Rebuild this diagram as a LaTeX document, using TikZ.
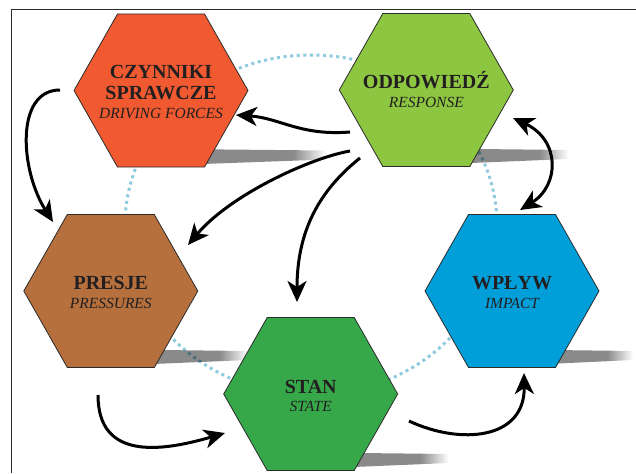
\documentclass[tikz,border=0pt]{standalone}
\usepackage{fontspec}
\setmainfont{Liberation Serif}
\usetikzlibrary{arrows.meta}
\definecolor{cOrange}{HTML}{F15A30}
\definecolor{cLime}{HTML}{8DC641}
\definecolor{cBrown}{HTML}{B5703E}
\definecolor{cGreen}{HTML}{36A84A}
\definecolor{cBlue}{HTML}{009FDA}
\definecolor{cDot}{HTML}{8CCBDE}
\definecolor{cShadow}{HTML}{8A8A8A}
\definecolor{cText}{HTML}{231F20}
\definecolor{cEdge}{HTML}{2B2B2B}
\pgfdeclarehorizontalshading{shadowfade}{100bp}{color(0bp)=(cShadow); color(67bp)=(cShadow); color(75bp)=(white); color(100bp)=(white)}
\tikzset{
  hexline/.style={draw=cEdge, line width=0.8pt},
  pics/hexa/.style={code={\path[hexline, fill=#1] (-87,0) -- (-43.5,-76.5) -- (43.5,-76.5) -- (87,0) -- (43.5,76.5) -- (-43.5,76.5) -- cycle;}},
  pics/hexshadow/.style={code={\shade[shading=shadowfade] (-40,76.5) -- (-40,58) -- (#1,60) -- (#1,69) -- cycle;}},
  bl/.style={font=\fontsize{20}{23}\selectfont\bfseries, text=cText, inner sep=0pt, anchor=base},
  il/.style={font=\fontsize{15.5}{19}\selectfont\itshape, text=cText, inner sep=0pt, anchor=base},
  arr/.style={line width=3pt, -{Stealth[length=21pt,width=19pt,inset=6pt]}},
  dbl/.style={line width=3pt, {Stealth[length=21pt,width=19pt,inset=6pt]}-{Stealth[length=21pt,width=19pt,inset=6pt]}},
}
\begin{document}
\begin{tikzpicture}[x=1pt,y=-1pt]
\useasboundingbox (0,0) rectangle (636,473);
% frame
\draw[cEdge, line width=1pt] (11.5,473) -- (11.5,9.5) -- (636,9.5);
% shadows
\pic at (161,90.5) {hexshadow=165};
\pic at (426.3,90) {hexshadow=142};
\pic at (110.8,291) {hexshadow=137};
\pic at (310.7,394) {hexshadow=138};
\pic at (512,291) {hexshadow=121};
% dotted ring
\draw[cDot, line width=3pt, dash pattern=on 3pt off 3.6pt, blend mode=multiply] (311,225) ellipse [x radius=186, y radius=170];
% hexagons
\pic at (161,90.5) {hexa=cOrange};
\pic at (426.3,90) {hexa=cLime};
\pic at (110.8,291) {hexa=cBrown};
\pic at (310.7,394) {hexa=cGreen};
\pic at (512,291) {hexa=cBlue};
% labels
\node[bl] (czy)  at (161,78.3)  {CZYNNIKI};
\node[bl] (czy2) at (161,100)   {SPRAWCZE};
\node[il] (czye) at (161,119)   {DRIVING FORCES};
\node[bl] (odp)  at (426.3,88.3) {ODPOWIEDŹ};
\node[il] (odpe) at (426.3,107.3) {RESPONSE};
\node[bl] (pre)  at (110.8,289.7) {PRESJE};
\node[il] (pree) at (110.8,308.7) {PRESSURES};
\node[bl] (sta)  at (310.7,393) {STAN};
\node[il] (stae) at (310.7,411.5) {STATE};
\node[bl] (wpl)  at (512,289.7) {WPŁYW};
\node[il] (wple) at (512,308.7) {IMPACT};
% arrow end points
\coordinate (a1s) at (60,90);   \coordinate (a1e) at (53,222);
\coordinate (a2s) at (350,132); \coordinate (a2e) at (236,115);
\coordinate (a3s) at (350,151); \coordinate (a3e) at (188,245);
\coordinate (a4s) at (360,158); \coordinate (a4e) at (297,302);
\coordinate (a5s) at (513,118); \coordinate (a5e) at (520,210);
\coordinate (a6s) at (98,395);  \coordinate (a6e) at (225,433);
\coordinate (a7s) at (409,421); \coordinate (a7e) at (524,373);
% arrows
\draw[arr] (a1s) .. controls (15,90) and (20,170) .. (a1e);
\draw[arr] (a2s) .. controls (300,136) and (280,118) .. (a2e);
\draw[arr] (a3s) .. controls (310,158) and (230,195) .. (a3e);
\draw[arr] (a4s) .. controls (320,190) and (297,230) .. (a4e);
\draw[dbl] (a5s) .. controls (560,140) and (560,185) .. (a5e);
\draw[arr] (a6s) .. controls (98,460) and (160,452) .. (a6e);
\draw[arr] (a7s) .. controls (460,445) and (525,440) .. (a7e);
\end{tikzpicture}
\end{document}
